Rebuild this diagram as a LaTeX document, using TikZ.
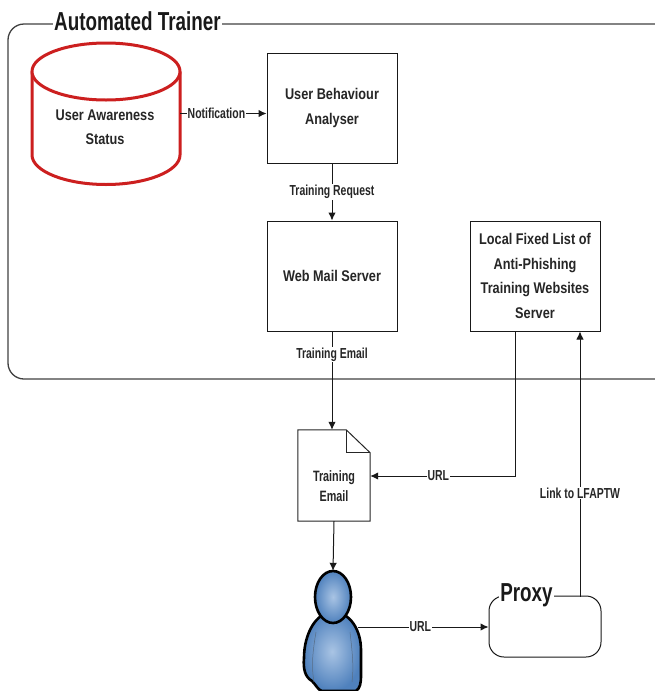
\documentclass[tikz,border=0pt]{standalone}
\usepackage{fontspec}
\setmainfont[FakeStretch=0.82]{Liberation Sans}
\newfontfamily\narrowfont[FakeStretch=0.72]{Liberation Sans}
\newfontfamily\titlefont[FakeStretch=0.725]{Liberation Sans}
\usetikzlibrary{arrows.meta,calc}
\definecolor{frameline}{HTML}{404040}
\definecolor{dbred}{HTML}{CC1F1F}
\definecolor{personblue}{HTML}{4F81BD}
\definecolor{personlight}{HTML}{A9C4E4}
\definecolor{persondark}{HTML}{0F2F52}
\tikzset{
  lbl/.style={font=\narrowfont\bfseries\fontsize{14.5}{16}\selectfont,text=black!85,align=center,inner sep=1pt},
  edgelbl/.style={lbl,fill=white},
  boxtext/.style={font=\bfseries\fontsize{15.5}{24.5}\selectfont,text=black!85,align=center},
  boxn/.style={boxtext,draw=black!90,line width=1pt,fill=white,minimum width=130pt,minimum height=110pt,inner sep=1pt},
  conn/.style={draw=black!90,line width=1pt,-{Latex[length=8pt,width=7.5pt]}},
  title/.style={font=\titlefont\bfseries\fontsize{26}{28}\selectfont,fill=white,inner xsep=1pt,inner ysep=0pt,text=black!90},
  personpart/.style={draw=black,line width=2.6pt,inner color=personlight,outer color=personblue}
}
\begin{document}
\begin{tikzpicture}[x=1pt,y=-1pt]
\useasboundingbox (0,0) rectangle (655,691);
% frame
\draw[frameline,line width=1.3pt,rounded corners=16pt] (655,24) -- (8,24) -- (8,379) -- (655,379);
\node[title] (autotitle) at (137.5,21) {Automated Trainer};
% database
\node[minimum width=148pt,minimum height=142pt,inner sep=0pt] (db) at (106,113.5) {};
\draw[dbred,line width=3pt,fill=white] (32,71.5) -- (32,155) .. controls (32,171) and (65,184.5) .. (106,184.5) .. controls (147,184.5) and (180,171) .. (180,155) -- (180,71.5);
\draw[dbred,line width=3pt,fill=white] (106,71.5) ellipse[x radius=74,y radius=28.5];
\node[boxtext] (dbtext) at (105,127) {User Awareness\\Status};
% boxes
\node[boxn] (analyser) at (332,108) {User Behaviour\\Analyser};
\node[boxn] (webmail) at (332,276) {Web Mail Server};
\node[boxn] (lfaptw) at (535,276) {Local Fixed List of\\Anti-Phishing\\Training Websites\\Server};
% document
\node[minimum width=72pt,minimum height=91pt,inner sep=0pt] (doc) at (334,475.5) {};
\draw[black!85,line width=1pt,fill=white] (doc.north west) -- ($(doc.north east)+(-24,0)$) -- ($(doc.north east)+(0,23)$) -- (doc.south east) -- (doc.south west) -- cycle;
\draw[black!85,line width=1pt] ($(doc.north east)+(-24,0)$) -- ($(doc.north east)+(-24,23)$) -- ($(doc.north east)+(0,23)$);
\node[inner sep=0pt,font=\narrowfont\bfseries\fontsize{15}{20}\selectfont,text=black!85,align=center] (doctext) at (334,486) {Training\\Email};
% proxy
\node[draw=black!90,line width=1pt,rounded corners=15pt,fill=white,minimum width=112pt,minimum height=61pt] (proxy) at (545,626.5) {};
\node[title] (proxytitle) at (526.5,595) {Proxy};
% person
\node[inner sep=0pt,minimum width=58pt,minimum height=120pt] (person) at (333,631) {};
\path[personpart] (333,612) .. controls (316,612) and (304,634) .. (304,658) .. controls (303,669) and (305,677) .. (312,681) .. controls (316,685) and (318,690) .. (322,691) -- (356,691) .. controls (360,688) and (361,684) .. (361,675) -- (361,650) .. controls (361,630) and (350,612) .. (333,612) -- cycle;
\draw[persondark!70,line width=0.5pt] (316,632) .. controls (313,650) and (311,665) .. (314,682);
\draw[persondark!70,line width=0.5pt] (350,632) .. controls (352,650) and (354,665) .. (352,682);
\path[personpart] (333,597) ellipse[x radius=18,y radius=26];
% connectors
\draw[conn] (db.east) -- (analyser.west |- db.east) node[edgelbl,pos=0.42] (notiflbl) {Notification};
\draw[conn] (analyser.south) -- (webmail.north) node[edgelbl,midway] (reqlbl) {Training Request};
\draw[conn] (webmail.south) -- (doc.north -| webmail.south) node[edgelbl,pos=0.235] (emaillbl) {Training Email};
\coordinate (urlcorner) at (515,476);
\coordinate (urlstart) at (lfaptw.south -| urlcorner);
\draw[conn] (urlstart) -- (urlcorner) -- (doc.east |- urlcorner) node[edgelbl,pos=0.53] (urllbl) {URL};
\coordinate (proxyout) at (580,596.5);
\coordinate (lfin) at (lfaptw.south -| proxyout);
\draw[conn] (proxyout) -- (lfin) node[edgelbl,pos=0.39] (linklbl) {Link to LFAPTW};
\draw[conn] (doc.south) -- (person.north);
\coordinate (personout) at (358,627);
\draw[conn] (personout) -- (proxy.west |- personout) node[edgelbl,midway,xshift=-3pt] (url2lbl) {URL};
\end{tikzpicture}
\end{document}
